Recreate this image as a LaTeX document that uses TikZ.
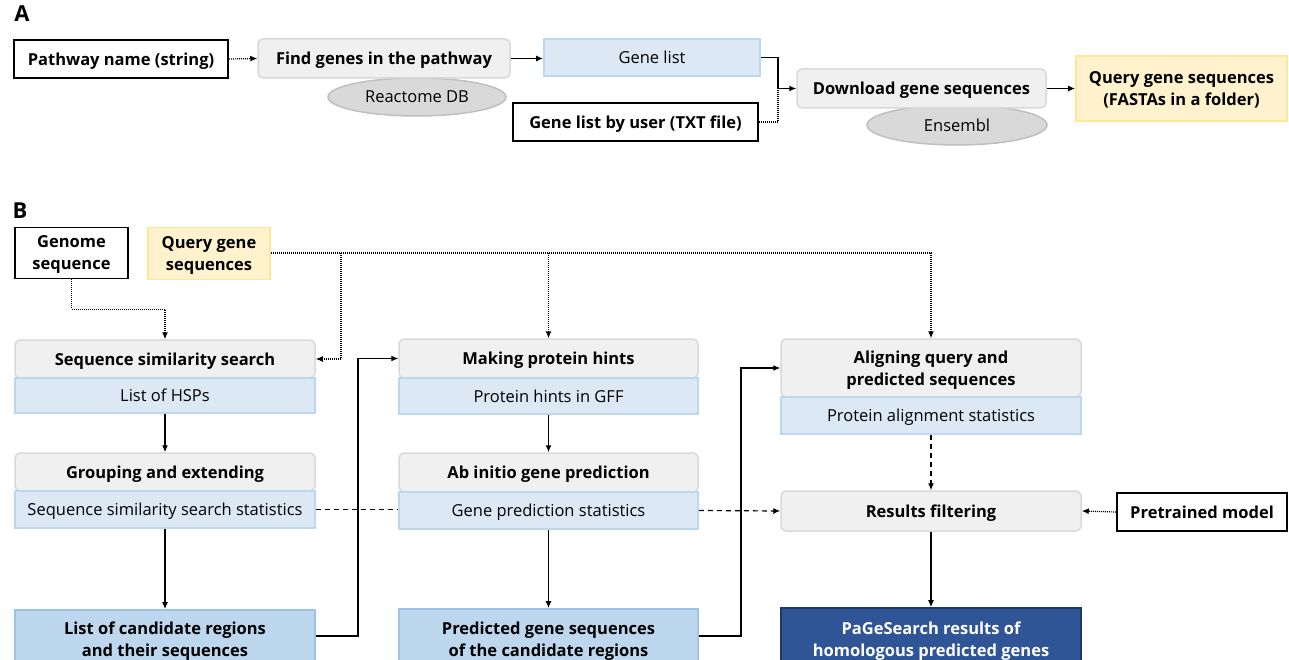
\documentclass[tikz,border=0pt]{standalone}
\usepackage{fontspec}
\setmainfont{Open Sans}
\usetikzlibrary{arrows.meta,shapes.geometric}
\definecolor{grayfill}{HTML}{F0F0F0}
\definecolor{grayline}{HTML}{D9D9D9}
\definecolor{bluefill}{HTML}{DDE8F5}
\definecolor{blueline}{HTML}{BDD7EE}
\definecolor{midfill}{HTML}{BDD7EE}
\definecolor{midline}{HTML}{9DC3E6}
\definecolor{darkfill}{HTML}{2F5597}
\definecolor{darkline}{HTML}{203864}
\definecolor{yelfill}{HTML}{FFF2CC}
\definecolor{yelline}{HTML}{FFE699}
\definecolor{ellfill}{HTML}{D9D9D9}
\definecolor{ellline}{HTML}{BFBFBF}
\tikzset{
  base/.style={inner sep=2pt, align=center, text depth=0pt, font=\fontsize{16.5}{22}\selectfont},
  blackbox/.style={base, draw=black, line width=1.8pt, fill=white, font=\fontsize{16.5}{22}\selectfont\bfseries},
  graybox/.style={base, draw=grayline, line width=1.5pt, fill=grayfill, rounded corners=5pt, font=\fontsize{16.5}{22}\selectfont\bfseries},
  bluebox/.style={base, draw=blueline, line width=1.8pt, fill=bluefill},
  midbox/.style={base, draw=midline, line width=1.8pt, fill=midfill, font=\fontsize{16.5}{22}\selectfont\bfseries},
  darkbox/.style={base, draw=darkline, line width=1.8pt, fill=darkfill, text=white, font=\fontsize{16.5}{22}\selectfont\bfseries},
  yelbox/.style={base, draw=yelline, line width=1.8pt, fill=yelfill, font=\fontsize{16.5}{22}\selectfont\bfseries},
  ell/.style={base, ellipse, draw=ellline, line width=1.5pt, fill=ellfill},
  lbl/.style={font=\fontsize{22}{24}\selectfont\bfseries},
  conn/.style={line width=1.2pt, draw=black},
  arr/.style={conn, -{Latex[length=7pt,width=6pt]}},
  dotline/.style={conn, dash pattern=on 1pt off 1pt},
  dashline/.style={conn, dash pattern=on 5pt off 4pt},
}
\begin{document}
\begin{tikzpicture}[x=1pt,y=-1pt]
\useasboundingbox (0,0) rectangle (1289,660);
\clip (0,0) rectangle (1289,660);

% ---------- A ----------
\node[lbl] (labA) at (22,14) {A};
\node[blackbox, minimum width=214, minimum height=38] (pathway) at (121,59) {Pathway name (string)};
\node[ell, minimum width=178, minimum height=38] (reactome) at (417,97) {Reactome DB};
\node[graybox, minimum width=252, minimum height=39] (find) at (384,58.5) {Find genes in the pathway};
\node[bluebox, minimum width=216, minimum height=37] (genelist) at (652,57.5) {Gene list};
\node[blackbox, minimum width=245, minimum height=38] (userlist) at (635.5,122) {Gene list by user (TXT file)};
\node[ell, minimum width=180, minimum height=40] (ensembl) at (957,125) {Ensembl};
\node[graybox, minimum width=249, minimum height=39] (download) at (921.5,88.5) {Download gene sequences};
\node[yelbox, minimum width=211, minimum height=65] (queryA) at (1181.5,88.5) {Query gene sequences\\(FASTAs in a folder)};
\coordinate (jA) at (778,88.5);

\draw[arr, dotline] (pathway.east) -- (find.west);
\draw[arr] (find.east) -- (find.east -| genelist.west);
\draw[arr] (genelist.east) -| (jA) -- (download.west);
\draw[dotline] (userlist.east) -| (jA);
\draw[arr] (download.east) -- (download.east -| queryA.west);

% ---------- B ----------
\node[lbl] (labB) at (20,211) {B};
\node[blackbox, minimum width=113, minimum height=51] (genome) at (71.5,253) {Genome\\sequence};
\node[yelbox, minimum width=122, minimum height=52] (queryB) at (209,253.5) {Query gene\\sequences};

\node[graybox, minimum width=300, minimum height=38] (sss) at (165,359) {Sequence similarity search};
\node[bluebox, minimum width=300, minimum height=35] (hsp) at (165,395.5) {List of HSPs};
\node[graybox, minimum width=300, minimum height=38] (group) at (165,472) {Grouping and extending};
\node[bluebox, minimum width=300, minimum height=37] (sssstat) at (165,509.5) {Sequence similarity search statistics};
\node[midbox, minimum width=300, minimum height=58] (cand) at (165,639) {List of candidate regions\\and their sequences};

\node[graybox, minimum width=299, minimum height=39] (mph) at (548.5,358.5) {Making protein hints};
\node[bluebox, minimum width=299, minimum height=36] (gff) at (548.5,396) {Protein hints in GFF};
\node[graybox, minimum width=299, minimum height=39] (abinitio) at (548.5,472.5) {Ab initio gene prediction};
\node[bluebox, minimum width=299, minimum height=37] (gpstat) at (548.5,510.5) {Gene prediction statistics};
\node[midbox, minimum width=299, minimum height=60] (pred) at (548.5,639) {Predicted gene sequences\\of the candidate regions};

\node[graybox, minimum width=300, minimum height=58] (align) at (931,368) {Aligning query and\\predicted sequences};
\node[bluebox, minimum width=300, minimum height=37] (pas) at (931,415.5) {Protein alignment statistics};
\node[graybox, minimum width=300, minimum height=40] (filt) at (931,511) {Results filtering};
\node[darkbox, minimum width=300, minimum height=62] (res) at (931,639) {PaGeSearch results of\\homologous predicted genes};
\node[blackbox, minimum width=170, minimum height=38] (pretrained) at (1202,512) {Pretrained model};

\coordinate (bq) at (341,253);

% inputs
\draw[arr, dotline] (genome.south) -- ++(0,30) -| (sss.north);
\draw[arr, dotline] (bq -| queryB.east) -- (bq -| align.north) -- (align.north);
\draw[arr, dotline] (bq) |- (sss.east);
\draw[arr, dotline] (bq -| mph.north) -- (mph.north);

% column flows
\draw[arr] (hsp.south) -- (group.north);
\draw[arr] (sssstat.south) -- (cand.north);
\draw[arr] (gff.south) -- (abinitio.north);
\draw[arr] (gpstat.south) -- (pred.north);
\draw[arr, dashline] (pas.south) -- (filt.north);
\draw[arr] (filt.south) -- (res.north);

% cross connections
\draw[arr] (cand.east |- 0,636) -- ++(42,0) |- (mph.west);
\draw[arr] (pred.east |- 0,636) -- ++(42,0) |- (align.west);
\draw[dashline] (sssstat.east) -- (sssstat.east -| gpstat.west);
\draw[arr, dashline] (gpstat.east) -- (filt.west);
\draw[arr, dotline] (pretrained.west) -- (filt.east);
\end{tikzpicture}
\end{document}
